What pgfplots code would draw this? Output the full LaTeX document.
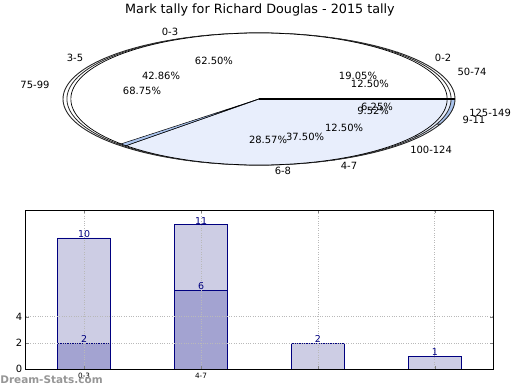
\documentclass[border=0pt]{standalone}
\usepackage{pgfplots}
\pgfplotsset{compat=1.18}
\usepackage{fontspec}
\setmainfont{DejaVu Sans}
\definecolor{pale}{RGB}{232,238,252}
\definecolor{midblue}{RGB}{170,196,238}
\definecolor{barlight}{RGB}{205,205,228}
\definecolor{bardark}{RGB}{163,163,209}
\definecolor{navyc}{RGB}{0,0,128}
\definecolor{wm}{RGB}{150,150,150}
\begin{document}
\begin{tikzpicture}[x=1bp,y=1bp]
\useasboundingbox (0,0) rectangle (520,390);
\node[font=\fontsize{12.8}{15}\selectfont] at (260,380) {Mark tally for Richard Douglas - 2015 tally};

\begin{axis}[at={(259bp,291bp)}, anchor=center, scale only axis,
  width=392bp, height=132bp, xmin=-1, xmax=1, ymin=-1, ymax=1,
  hide axis, clip=false,
  every node/.style={font=\fontsize{10}{12}\selectfont}]
% pie C: counts 2, 11, 2, 1 (50-74, 75-99, 100-124, 125-149) -> angles 0,45,292.5,337.5,360
\addplot[fill=white, draw=black!85, line width=0.9pt, domain=0:45, samples=30] ({1.0*cos(x)},{sin(x)}) -- (axis cs:0,0) -- cycle;
\addplot[fill=white, draw=black!85, line width=0.9pt, domain=45:292.5, samples=120] ({1.0*cos(x)},{sin(x)}) -- (axis cs:0,0) -- cycle;
\addplot[fill=pale, draw=black!85, line width=0.9pt, domain=292.5:337.5, samples=30] ({1.0*cos(x)},{sin(x)}) -- (axis cs:0,0) -- cycle;
\addplot[fill=midblue, draw=black!85, line width=0.9pt, domain=337.5:360, samples=20] ({1.0*cos(x)},{sin(x)}) -- (axis cs:0,0) -- cycle;
% pie B: counts 4, 9, 6, 2 (0-2, 3-5, 6-8, 9-11) -> angles 0,68.571,222.857,325.714,360
\addplot[fill=white, draw=black!85, line width=0.8pt, domain=0:68.571, samples=40] ({0.98*cos(x)},{sin(x)}) -- (axis cs:0,0) -- cycle;
\addplot[fill=white, draw=black!85, line width=0.8pt, domain=68.571:222.857, samples=80] ({0.98*cos(x)},{sin(x)}) -- (axis cs:0,0) -- cycle;
\addplot[fill=pale, draw=black!85, line width=0.8pt, domain=222.857:325.714, samples=60] ({0.98*cos(x)},{sin(x)}) -- (axis cs:0,0) -- cycle;
\addplot[fill=pale, draw=black!85, line width=0.8pt, domain=325.714:360, samples=20] ({0.98*cos(x)},{sin(x)}) -- (axis cs:0,0) -- cycle;
% pie A: counts 10, 6 (0-3, 4-7) -> angles 0,225,360
\addplot[fill=white, draw=black, line width=0.7pt, domain=0:225, samples=120] ({0.96*cos(x)},{sin(x)}) -- (axis cs:0,0) -- cycle;
\addplot[fill=pale, draw=black, line width=0.7pt, domain=225:360, samples=80] ({0.96*cos(x)},{sin(x)}) -- (axis cs:0,0) -- cycle;
% start of pie B's 6-8 wedge showing over pie A
\addplot[fill=midblue, draw=black, line width=0.5pt, domain=222.857:225, samples=5] ({0.96*cos(x)},{sin(x)}) -- (axis cs:0,0) -- cycle;
% shared edge at 0 degrees (all pies start here)
\addplot[draw=black, line width=1.6pt] coordinates {(0,0) (1.0,0)};
% labels
\node at (axis cs:-0.454,1.015) {0-3};
\node at (axis cs:-0.939,0.621) {3-5};
\node at (axis cs:-1.143,0.212) {75-99};
\node at (axis cs:0.939,0.621) {0-2};
\node at (axis cs:1.087,0.409) {50-74};
\node at (axis cs:1.179,-0.212) {125-149};
\node at (axis cs:1.097,-0.318) {9-11};
\node at (axis cs:0.878,-0.773) {100-124};
\node at (axis cs:0.459,-1.015) {4-7};
\node at (axis cs:0.122,-1.091) {6-8};
\node at (axis cs:-0.230,0.576) {62.50\%};
\node at (axis cs:-0.500,0.348) {42.86\%};
\node at (axis cs:-0.597,0.121) {68.75\%};
\node at (axis cs:0.505,0.348) {19.05\%};
\node at (axis cs:0.566,0.227) {12.50\%};
\node at (axis cs:0.602,-0.121) {6.25\%};
\node at (axis cs:0.582,-0.182) {9.52\%};
\node at (axis cs:0.434,-0.439) {12.50\%};
\node at (axis cs:0.235,-0.576) {37.50\%};
\node at (axis cs:0.046,-0.621) {28.57\%};
\end{axis}

\begin{axis}[at={(25.7bp,20.7bp)}, anchor=south west, scale only axis,
  width=467.6bp, height=159bp,
  xmin=-0.5, xmax=3.5, ymin=0, ymax=12.1,
  xtick={0,1,2,3}, xticklabels={0-3,4-7,{},{}},
  ytick={0,2,4},
  grid=major, grid style={dotted, color=gray!55, line width=0.8pt},
  axis on top,
  ybar, bar width=0.45, bar shift=0pt,
  x tick label style={font=\fontsize{7.3}{8}\selectfont},
  y tick label style={font=\fontsize{10}{12}\selectfont},
  /pgf/number format/assume math mode=true,
  tick align=inside, major tick length=3pt, tick style={color=gray},
  axis line style={line width=0.8pt},
  nodes near coords,
  nodes near coords style={font=\fontsize{9.5}{11}\selectfont, color=navyc, anchor=south, inner sep=0pt},
  ]
\addplot[fill=barlight, draw=navyc, line width=0.8pt] coordinates {(0,10) (1,11) (2,2) (3,1)};
\addplot[fill=bardark, draw=navyc, line width=0.8pt] coordinates {(0,2) (1,6)};
\end{axis}
\node[font=\bfseries\fontsize{10.5}{12}\selectfont, color=wm] at (51.5,10) {Dream-Stats.com};
\end{tikzpicture}
\end{document}
